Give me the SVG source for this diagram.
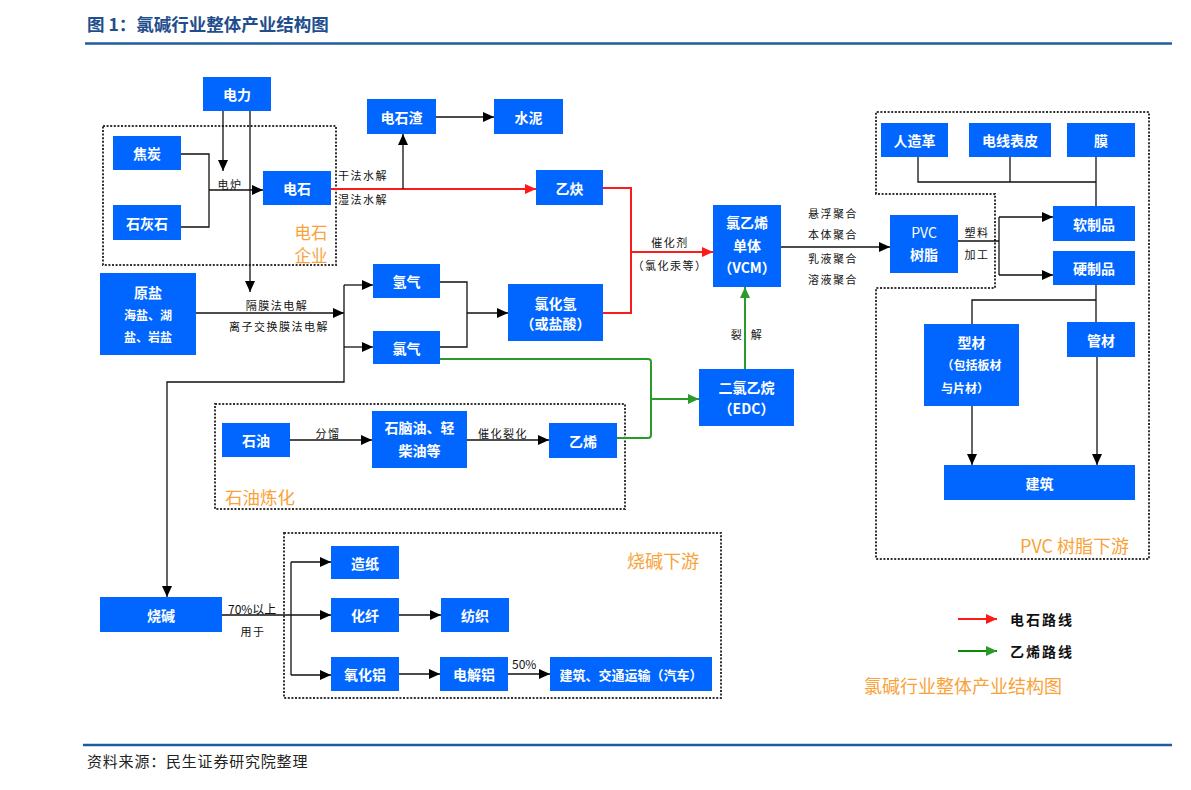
<svg xmlns="http://www.w3.org/2000/svg" width="1191" height="790" viewBox="0 0 1191 790">
<style>
.bx{fill:#0066ff}
.bt{font-family:"Noto Sans CJK SC","Liberation Sans",sans-serif;font-size:14px;font-weight:bold;fill:#fff;text-anchor:middle;dominant-baseline:central}
.bs{font-size:12px}
.lb{font-family:"Noto Sans CJK SC","Liberation Sans",sans-serif;font-size:11px;fill:#111;text-anchor:middle;dominant-baseline:central;letter-spacing:1.5px}
.st{text-anchor:start}
.lg{font-size:14px;font-weight:bold;letter-spacing:2px}
.or{font-family:"Noto Sans CJK SC","Liberation Sans",sans-serif;font-size:18px;fill:#f9a23a;dominant-baseline:central}
.ln{stroke:#111;stroke-width:1.3;fill:none}
.rd{stroke:#ff1a1a;stroke-width:2;fill:none}
.gn{stroke:#2a9a2a;stroke-width:2;fill:none}
.dt{stroke:#333;stroke-width:2;stroke-dasharray:2 1.6;fill:none}
</style>
<defs>
<marker id="ab" markerUnits="userSpaceOnUse" markerWidth="11" markerHeight="10" refX="11" refY="5" orient="auto"><path d="M0,0 L11,5 L0,10 Z" fill="#000"/></marker>
<marker id="ar" markerUnits="userSpaceOnUse" markerWidth="11" markerHeight="10" refX="11" refY="5" orient="auto"><path d="M0,0 L11,5 L0,10 Z" fill="#ff1a1a"/></marker>
<marker id="ag" markerUnits="userSpaceOnUse" markerWidth="11" markerHeight="10" refX="11" refY="5" orient="auto"><path d="M0,0 L11,5 L0,10 Z" fill="#2a9a2a"/></marker>
</defs>
<rect width="1191" height="790" fill="#fff"/>

<!-- title and footer -->
<text x="87" y="31" font-family="'Noto Sans CJK SC',sans-serif" font-size="17.5" font-weight="bold" fill="#1f4e8c">图 1：氯碱行业整体产业结构图</text>
<line x1="85" y1="43.5" x2="1172" y2="43.5" stroke="#1f5c9e" stroke-width="2.5"/>
<line x1="83" y1="745" x2="1172" y2="745" stroke="#1f5c9e" stroke-width="2.5"/>
<text x="87" y="767" font-family="'Noto Sans CJK SC',sans-serif" font-size="15" letter-spacing="0.8" fill="#222">资料来源：民生证券研究院整理</text>

<!-- group regions -->
<g id="regions">
<rect class="dt" x="103" y="126" width="233" height="139"/>
<rect class="dt" x="215" y="404" width="410" height="105"/>
<rect class="dt" x="284" y="533" width="437" height="165"/>
<path class="dt" d="M876,194 V112 H1149 V559 H876 V288 H995 V194 Z"/>
<text class="or" x="311" y="232" text-anchor="middle" style="font-size:16.5px">电石</text>
<text class="or" x="311" y="255" text-anchor="middle" style="font-size:16.5px">企业</text>
<text class="or" x="225" y="496" style="font-size:17.5px">石油炼化</text>
<text class="or" x="627" y="560">烧碱下游</text>
<text class="or" x="1020" y="545">PVC 树脂下游</text>
<text class="or" x="864" y="685">氯碱行业整体产业结构图</text>
</g>

<!-- connectors -->
<g id="connectors">
<path class="ln" d="M223,111 V171" marker-end="url(#ab)"/>
<path class="ln" d="M250,111 V292" marker-end="url(#ab)"/>
<path class="ln" d="M181,154 H209 V227 H181"/>
<path class="ln" d="M209,190 H263" marker-end="url(#ab)"/>
<path class="rd" d="M331,189 H536" marker-end="url(#ar)"/>
<path class="ln" d="M403,189 V134" marker-end="url(#ab)"/>
<path class="ln" d="M436,117 H494" marker-end="url(#ab)"/>
<path class="rd" d="M603,188 H631 V313 H603"/>
<path class="rd" d="M631,252 H713" marker-end="url(#ar)"/>
<path class="ln" d="M196,313 H344" marker-end="url(#ab)"/>
<path class="ln" d="M344,285 H373" marker-end="url(#ab)"/>
<path class="ln" d="M344,347 H373" marker-end="url(#ab)"/>
<path class="ln" d="M344,285 V382 H167 V597" marker-end="url(#ab)"/>
<path class="ln" d="M440,282 H467 V347 H440"/>
<path class="ln" d="M467,313 H508" marker-end="url(#ab)"/>
<path class="ln" d="M290,440 H372" marker-end="url(#ab)"/>
<path class="ln" d="M467,440 H549" marker-end="url(#ab)"/>
<path class="gn" d="M440,359 H648 Q651,359 651,362 V435 Q651,438 648,438 H617"/>
<path class="gn" d="M651,399 H699" marker-end="url(#ag)"/>
<path class="gn" d="M745,369 V287" marker-end="url(#ag)"/>
<path class="ln" d="M781,247 H890" marker-end="url(#ab)"/>
<path class="ln" d="M958,241 H999"/>
<path class="ln" d="M999,217 V275"/>
<path class="ln" d="M999,217 H1053" marker-end="url(#ab)"/>
<path class="ln" d="M999,275 H1053" marker-end="url(#ab)"/>
<path class="ln" d="M918,157 V182 H1096"/>
<path class="ln" d="M1010,157 V182"/>
<path class="ln" d="M1096,157 V206"/>
<path class="ln" d="M1096,285 V322"/>
<path class="ln" d="M1096,300 H972 V324"/>
<path class="ln" d="M972,406 V465" marker-end="url(#ab)"/>
<path class="ln" d="M1097,357 V465" marker-end="url(#ab)"/>
<path class="ln" d="M222,615 H331" marker-end="url(#ab)"/>
<path class="ln" d="M291,562 V675"/>
<path class="ln" d="M291,562 H331" marker-end="url(#ab)"/>
<path class="ln" d="M291,675 H331" marker-end="url(#ab)"/>
<path class="ln" d="M399,615 H441" marker-end="url(#ab)"/>
<path class="ln" d="M399,674 H440" marker-end="url(#ab)"/>
<path class="ln" d="M508,674 H550" marker-end="url(#ab)"/>
<!-- legend -->
<path class="rd" d="M958,619 H997" marker-end="url(#ar)"/>
<path d="M958,651 H997" stroke="#0a8a0a" stroke-width="2" fill="none" marker-end="url(#ag)"/>
<!-- labels -->
<text class="lb" x="230" y="184">电炉</text>
<text class="lb st" x="338" y="175">干法水解</text>
<text class="lb st" x="338" y="199">湿法水解</text>
<text class="lb" x="277" y="305">隔膜法电解</text>
<text class="lb" x="279" y="326">离子交换膜法电解</text>
<text class="lb" x="670" y="242">催化剂</text>
<text class="lb" x="670" y="265">（氯化汞等）</text>
<text class="lb" x="833" y="213">悬浮聚合</text>
<text class="lb" x="833" y="234">本体聚合</text>
<text class="lb" x="833" y="258">乳液聚合</text>
<text class="lb" x="833" y="279">溶液聚合</text>
<text class="lb" x="737" y="334">裂</text>
<text class="lb" x="757" y="334">解</text>
<text class="lb" x="977" y="232">塑料</text>
<text class="lb" x="977" y="254">加工</text>
<text class="lb" x="328" y="433">分馏</text>
<text class="lb" x="503" y="433">催化裂化</text>
<text class="lb st" x="228" y="608" style="letter-spacing:0;font-size:12px">70%以上</text>
<text class="lb" x="253" y="631">用于</text>
<text class="lb st" x="512" y="663" style="letter-spacing:0;font-size:12px">50%</text>
<text class="lb st lg" x="1010" y="619">电石路线</text>
<text class="lb st lg" x="1010" y="651">乙烯路线</text>
</g>

<!-- nodes -->
<g id="n-dianli"><rect class="bx" x="203" y="77" width="68" height="34"/><text class="bt" x="237" y="94">电力</text></g>
<g id="n-jiaotan"><rect class="bx" x="113" y="136" width="68" height="34"/><text class="bt" x="147" y="153">焦炭</text></g>
<g id="n-shihuishi"><rect class="bx" x="113" y="205" width="68" height="35"/><text class="bt" x="147" y="222.5">石灰石</text></g>
<g id="n-dianshi"><rect class="bx" x="263" y="171" width="68" height="34"/><text class="bt" x="297" y="188">电石</text></g>
<g id="n-dianshizha"><rect class="bx" x="367" y="99" width="69" height="35"/><text class="bt" x="401.5" y="116.5">电石渣</text></g>
<g id="n-shuini"><rect class="bx" x="494" y="99" width="69" height="35"/><text class="bt" x="528.5" y="116.5">水泥</text></g>
<g id="n-yique"><rect class="bx" x="536" y="170" width="67" height="35"/><text class="bt" x="569.5" y="187.5">乙炔</text></g>
<g id="n-yuanyan"><rect class="bx" x="100" y="273" width="96" height="82"/><text class="bt" x="148" y="292">原盐</text><text class="bt bs" x="148" y="314">海盐、湖</text><text class="bt bs" x="148" y="336">盐、岩盐</text></g>
<g id="n-qingqi"><rect class="bx" x="373" y="264" width="67" height="34"/><text class="bt" x="406.5" y="281">氢气</text></g>
<g id="n-lvqi"><rect class="bx" x="373" y="331" width="67" height="33"/><text class="bt" x="406.5" y="347.5">氯气</text></g>
<g id="n-hcl"><rect class="bx" x="508" y="284" width="95" height="57"/><text class="bt" x="555.5" y="303">氯化氢</text><text class="bt" x="555.5" y="323">（或盐酸）</text></g>
<g id="n-vcm"><rect class="bx" x="713" y="205" width="68" height="82"/><text class="bt" x="747" y="222">氯乙烯</text><text class="bt" x="747" y="245">单体</text><text class="bt" x="747" y="267">（VCM）</text></g>
<g id="n-edc"><rect class="bx" x="699" y="369" width="95" height="57"/><text class="bt" x="746.5" y="387">二氯乙烷</text><text class="bt" x="746.5" y="408">（EDC）</text></g>
<g id="n-shiyou"><rect class="bx" x="222" y="423" width="68" height="34"/><text class="bt" x="256" y="440">石油</text></g>
<g id="n-shinaoyou"><rect class="bx" x="372" y="411" width="95" height="57"/><text class="bt" x="419.5" y="427">石脑油、轻</text><text class="bt" x="419.5" y="450">柴油等</text></g>
<g id="n-yixi"><rect class="bx" x="549" y="423" width="68" height="35"/><text class="bt" x="583" y="440.5">乙烯</text></g>
<g id="n-shaojian"><rect class="bx" x="100" y="597" width="122" height="35"/><text class="bt" x="161" y="614.5">烧碱</text></g>
<g id="n-zaozhi"><rect class="bx" x="331" y="546" width="68" height="33"/><text class="bt" x="365" y="562.5">造纸</text></g>
<g id="n-huaxian"><rect class="bx" x="331" y="598" width="68" height="34"/><text class="bt" x="365" y="615">化纤</text></g>
<g id="n-fangzhi"><rect class="bx" x="441" y="598" width="68" height="34"/><text class="bt" x="475" y="615">纺织</text></g>
<g id="n-yanghualv"><rect class="bx" x="331" y="657" width="68" height="34"/><text class="bt" x="365" y="674">氧化铝</text></g>
<g id="n-dianjielv"><rect class="bx" x="440" y="657" width="68" height="34"/><text class="bt" x="474" y="674">电解铝</text></g>
<g id="n-jianzhu-jiaotong"><rect class="bx" x="550" y="657" width="162" height="34"/><text class="bt" x="631" y="674" style="font-size:13px">建筑、交通运输（汽车）</text></g>
<g id="n-renzaoge"><rect class="bx" x="881" y="123" width="67" height="34"/><text class="bt" x="914.5" y="140">人造革</text></g>
<g id="n-dianxian"><rect class="bx" x="969" y="123" width="82" height="34"/><text class="bt" x="1010" y="140">电线表皮</text></g>
<g id="n-mo"><rect class="bx" x="1067" y="123" width="68" height="34"/><text class="bt" x="1101" y="140">膜</text></g>
<g id="n-pvc"><rect class="bx" x="890" y="215" width="68" height="58"/><text class="bt" x="924" y="232" style="font-weight:normal">PVC</text><text class="bt" x="924" y="254">树脂</text></g>
<g id="n-ruanzhipin"><rect class="bx" x="1053" y="206" width="82" height="35"/><text class="bt" x="1094" y="223.5">软制品</text></g>
<g id="n-yingzhipin"><rect class="bx" x="1053" y="251" width="82" height="34"/><text class="bt" x="1094" y="268">硬制品</text></g>
<g id="n-xingcai"><rect class="bx" x="924" y="324" width="95" height="82"/><text class="bt" x="971.5" y="342">型材</text><text class="bt bs" x="971.5" y="364">（包括板材</text><text class="bt bs" x="965" y="387">与片材）</text></g>
<g id="n-guancai"><rect class="bx" x="1067" y="322" width="68" height="35"/><text class="bt" x="1101" y="339.5">管材</text></g>
<g id="n-jianzhu"><rect class="bx" x="944" y="465" width="191" height="35"/><text class="bt" x="1039.5" y="482.5">建筑</text></g>
</svg>
